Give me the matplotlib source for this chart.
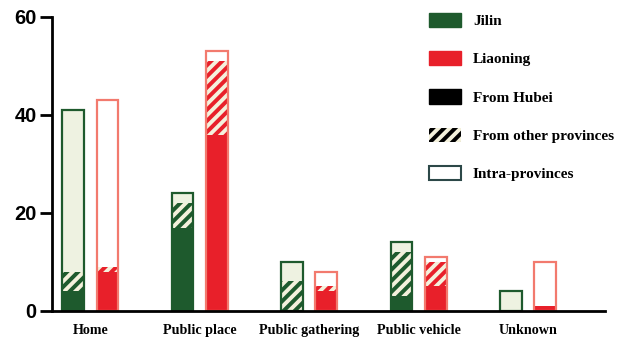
import numpy as np
import matplotlib.pyplot as plt
from matplotlib import patches

plt.rcParams['hatch.linewidth'] = 2.8

categories = ['Home', 'Public place', 'Public gathering', 'Public vehicle', 'Unknown']
jilin_hubei = [4, 17, 0, 3, 0]
jilin_other = [4, 5, 6, 9, 0]
jilin_intra = [33, 2, 4, 2, 4]
liaoning_hubei = [8, 36, 4, 5, 1]
liaoning_other = [1, 15, 1, 5, 0]
liaoning_intra = [34, 2, 3, 1, 9]

green = '#1e5a2d'
red = '#e8202a'
green_light = '#eef2e1'
red_edge = '#f27a6e'
stripe = '#f4f1dc'

fig = plt.figure(figsize=(6.26, 3.39), dpi=100)
fig.patch.set_facecolor('white')
ax = fig.add_axes([0.083, 0.083, 0.883, 0.867])

x = np.arange(len(categories))
w = 0.2
off = 0.157


def stack(pos, hubei, other, intra, col, light, edge):
    hubei = np.array(hubei); other = np.array(other); intra = np.array(intra)
    ax.bar(pos, hubei, w, color=col, lw=0)
    ax.bar(pos, other, w, bottom=hubei, color=col, edgecolor=stripe, hatch='///', lw=0)
    ax.bar(pos, intra, w, bottom=hubei + other, color=light, lw=0)
    ax.bar(pos, hubei + other + intra, w, color='none', edgecolor=edge, lw=1.6)


stack(x - off, jilin_hubei, jilin_other, jilin_intra, green, green_light, green)
stack(x + off, liaoning_hubei, liaoning_other, liaoning_intra, red, 'white', red_edge)

ax.set_xlim(-0.35, 4.7)
ax.set_ylim(0, 60)
ax.set_yticks([0, 20, 40, 60])
ax.set_xticks(x)
ax.set_xticklabels(categories, family='Liberation Serif', fontweight='bold', fontsize=10.2)
for lab in ax.get_yticklabels():
    lab.set_family('Liberation Sans')
    lab.set_fontweight('bold')
    lab.set_fontsize(14.5)
ax.tick_params(axis='y', length=9, width=2, pad=2)
ax.tick_params(axis='x', length=0, pad=9.5)
for s in ['top', 'right']:
    ax.spines[s].set_visible(False)
ax.spines['left'].set_linewidth(2)
ax.spines['bottom'].set_linewidth(2)

handles = [
    patches.Patch(facecolor=green, edgecolor=green, label='Jilin'),
    patches.Patch(facecolor=red, edgecolor=red, label='Liaoning'),
    patches.Patch(facecolor='black', edgecolor='black', label='From Hubei'),
    patches.Patch(facecolor='black', edgecolor=stripe, hatch='///', lw=0, label='From other provinces'),
    patches.Patch(facecolor='white', edgecolor='#2c4848', lw=1.5, label='Intra-provinces'),
]
fig.legend(handles=handles, loc='upper left', bbox_to_anchor=(421 / 626, 1 - 5 / 339),
           frameon=False, borderpad=0, handlelength=2.15, handleheight=1.05,
           handletextpad=0.75, labelspacing=1.51,
           prop={'family': 'Liberation Serif', 'weight': 'bold', 'size': 11})

fig.savefig('out.png', dpi=100, facecolor='white')
